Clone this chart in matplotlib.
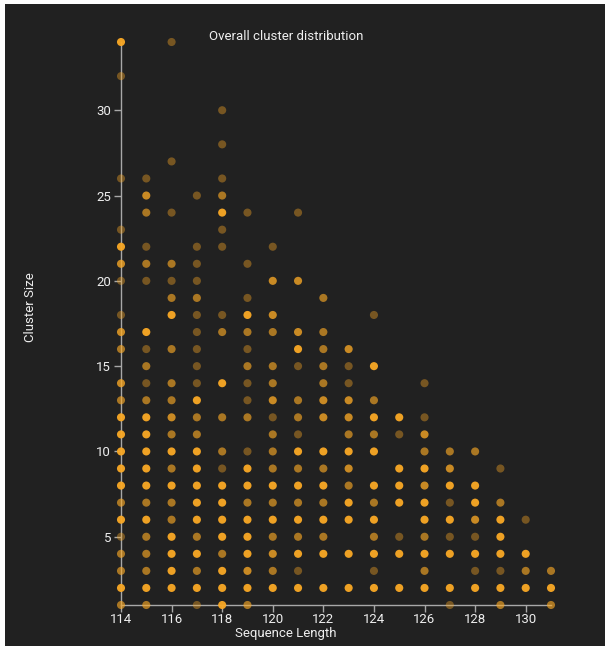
import matplotlib
matplotlib.use("Agg")
import matplotlib.pyplot as plt
from matplotlib.patches import Rectangle
from matplotlib.colors import to_rgb

plt.rcParams["font.family"] = ["Roboto", "DejaVu Sans"]

# Sequence lengths (x) and, for each one, the cluster sizes observed and how
# many overlapping records sit on each (sequence length, cluster size) cell.
seq_lengths = list(range(114, 132))

cluster_sizes = [
    [34, 32, 26, 23, 22, 21, 20, 18, 17, 16, 14, 13, 12, 11, 10, 9, 8, 7, 6, 5, 4, 3, 2, 1],
    [26, 25, 24, 22, 21, 20, 17, 16, 15, 14, 13, 12, 11, 10, 9, 8, 7, 6, 5, 4, 3, 2, 1],
    [34, 27, 24, 21, 20, 19, 18, 16, 14, 13, 12, 11, 10, 9, 8, 7, 6, 5, 4, 3, 2],
    [25, 22, 21, 20, 19, 18, 17, 16, 15, 14, 13, 12, 11, 10, 9, 8, 7, 6, 5, 4, 3, 2, 1],
    [30, 28, 26, 25, 24, 23, 22, 18, 17, 14, 12, 10, 9, 8, 7, 6, 5, 4, 3, 2, 1],
    [24, 21, 19, 18, 17, 16, 15, 14, 13, 12, 10, 9, 8, 7, 6, 5, 4, 3, 2, 1],
    [22, 20, 18, 17, 15, 14, 13, 12, 11, 10, 9, 8, 7, 6, 5, 4, 3, 2],
    [24, 20, 17, 16, 15, 13, 12, 11, 10, 9, 8, 7, 6, 5, 4, 3, 2],
    [19, 17, 16, 15, 14, 13, 12, 10, 9, 8, 7, 6, 5, 4, 2],
    [16, 15, 14, 13, 12, 11, 10, 9, 8, 7, 6, 4, 2],
    [18, 15, 13, 12, 11, 10, 8, 7, 6, 5, 4, 3, 2],
    [12, 11, 9, 8, 7, 5, 4, 2],
    [14, 12, 11, 10, 9, 8, 7, 6, 5, 4, 3, 2],
    [10, 9, 8, 7, 6, 5, 4, 2, 1],
    [10, 8, 7, 6, 5, 4, 3, 2],
    [9, 7, 6, 5, 4, 3, 2, 1],
    [6, 4, 3, 2],
    [3, 2, 1],
]

record_counts = [
    [6, 1, 1, 1, 6, 3, 1, 1, 3, 2, 3, 2, 6, 6, 6, 6, 6, 2, 6, 1, 2, 2, 6, 2],
    [1, 3, 2, 1, 2, 1, 6, 1, 2, 1, 2, 6, 6, 6, 6, 6, 2, 6, 2, 2, 2, 6, 2],
    [1, 1, 1, 2, 1, 2, 6, 2, 2, 2, 3, 2, 6, 2, 6, 2, 2, 6, 6, 6, 6],
    [1, 1, 1, 1, 2, 1, 1, 1, 1, 1, 6, 2, 2, 6, 6, 6, 6, 6, 2, 6, 2, 6, 1],
    [1, 1, 1, 2, 6, 1, 1, 1, 2, 6, 2, 2, 1, 6, 6, 6, 6, 2, 6, 6, 6],
    [1, 1, 1, 6, 2, 1, 2, 1, 1, 2, 1, 6, 6, 2, 6, 6, 6, 3, 6, 2],
    [1, 3, 3, 2, 2, 2, 3, 1, 2, 2, 2, 6, 2, 6, 2, 3, 2, 6],
    [1, 3, 3, 6, 1, 2, 2, 1, 6, 2, 6, 2, 6, 2, 6, 1, 6],
    [2, 2, 2, 2, 2, 3, 3, 6, 2, 6, 2, 6, 2, 6, 6],
    [3, 1, 1, 3, 3, 2, 6, 3, 2, 6, 6, 6, 6],
    [1, 6, 2, 6, 2, 6, 6, 2, 6, 2, 6, 1, 6],
    [6, 1, 6, 6, 6, 1, 6, 6],
    [1, 1, 3, 2, 6, 3, 6, 6, 2, 6, 2, 6],
    [2, 3, 6, 1, 6, 1, 6, 6, 1],
    [2, 6, 6, 3, 1, 6, 1, 6],
    [1, 2, 6, 6, 6, 1, 6, 2],
    [1, 6, 2, 6],
    [2, 6, 2],
]

x_ticks = [114, 116, 118, 120, 122, 124, 126, 128, 130]
y_ticks = [5, 10, 15, 20, 25, 30]

BG = "#212121"
DOT = "#f9a825"
POINT_ALPHA = 0.4
AXIS_COLOR = "#a8a8a8"
TEXT_COLOR = "#eeeeee"

xs, ys, colors = [], [], []
base = to_rgb(DOT)
for length, sizes, counts in zip(seq_lengths, cluster_sizes, record_counts):
    assert len(sizes) == len(counts)
    for size, n in zip(sizes, counts):
        # stacked translucent points: opacity accumulates with each record
        a = 1 - (1 - POINT_ALPHA) ** n
        xs.append(length)
        ys.append(size)
        colors.append((*base, a))

W, H = 610, 650
fig = plt.figure(figsize=(W / 100, H / 100), dpi=100, facecolor="white")
fig.patches.append(Rectangle((5 / W, 4 / H), 600 / W, 642 / H,
                             transform=fig.transFigure, facecolor=BG,
                             edgecolor="none", zorder=-10))

ax = fig.add_axes([121 / W, 1 - 605 / H, 430 / W, 563 / H])
ax.set_facecolor("none")
ax.scatter(xs, ys, s=34, c=colors, linewidths=0, clip_on=False, zorder=3)

ax.set_xlim(114, 131)
ax.set_ylim(1, 34)
ax.set_xticks(x_ticks)
ax.set_yticks(y_ticks)
ax.tick_params(colors=AXIS_COLOR, labelcolor=TEXT_COLOR, labelsize=9.5,
               length=5, width=1, direction="out")
ax.tick_params(axis="x", pad=0.5)
ax.tick_params(axis="y", pad=2)
for side in ("top", "right"):
    ax.spines[side].set_visible(False)
for side in ("left", "bottom"):
    ax.spines[side].set_color(AXIS_COLOR)
    ax.spines[side].set_linewidth(1)
    ax.spines[side].set_zorder(2)

fig.text(286 / W, 1 - 37 / H, "Overall cluster distribution", color=TEXT_COLOR,
         fontsize=9.5, ha="center", va="center")
fig.text(286 / W, 1 - 634 / H, "Sequence Length", color=TEXT_COLOR,
         fontsize=9.5, ha="center", va="center")
fig.text(30 / W, 1 - 307 / H, "Cluster Size", color=TEXT_COLOR,
         fontsize=9.5, ha="center", va="center", rotation=90)

fig.savefig("out.png", dpi=100, facecolor="white")
